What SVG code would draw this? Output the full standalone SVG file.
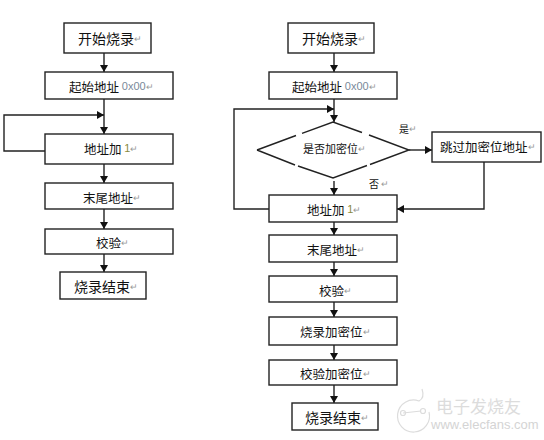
<svg xmlns="http://www.w3.org/2000/svg" width="544" height="440" viewBox="0 0 544 440">
<style>
.b{fill:#fff;stroke:#222;stroke-width:1.4}
.c{fill:none;stroke:#222;stroke-width:1.4}
text{font-family:"Noto Sans CJK SC","Liberation Sans",sans-serif;fill:#111;font-size:12.5px;dominant-baseline:central}
.l{font-size:14px}.s{font-size:11px}.t{font-size:10px}
.r{fill:#999;font-size:9px}
.h{fill:#7a8a9a;font-family:"Liberation Sans",sans-serif;font-size:11px}
.o{fill:#8a8a40;font-family:"Liberation Sans",sans-serif;font-size:11px}
.w{fill:none;stroke:#dcdcdc;stroke-width:1.2}
.wt{fill:#dcdcdc;font-size:17px}
.wu{fill:#d4d4d4;font-family:"Liberation Sans",sans-serif;font-size:13px}
</style>
<defs><marker id="a" markerUnits="userSpaceOnUse" markerWidth="8" markerHeight="8" refX="7" refY="4" orient="auto"><path d="M0 0L7 4L0 8z" fill="#111"/></marker></defs>
<rect width="544" height="440" fill="#fff"/>
<g id="connectors">
<path class="c" marker-end="url(#a)" d="M104 53V72"/>
<path class="c" marker-end="url(#a)" d="M104 99V134"/>
<path class="c" marker-end="url(#a)" d="M45 151H4V115H104"/>
<path class="c" marker-end="url(#a)" d="M104 164V183"/>
<path class="c" marker-end="url(#a)" d="M104 209V229"/>
<path class="c" marker-end="url(#a)" d="M104 254V272"/>
<path class="c" marker-end="url(#a)" d="M334 53V72"/>
<path class="c" marker-end="url(#a)" d="M334 99V122"/>
<path class="c" marker-end="url(#a)" d="M269 209H234V109H334"/>
<path class="c" marker-end="url(#a)" d="M409 150H432"/>
<path class="c" marker-end="url(#a)" d="M484 162V209H397"/>
<path class="c" marker-end="url(#a)" d="M334 181V195"/>
<path class="c" marker-end="url(#a)" d="M334 222V235"/>
<path class="c" marker-end="url(#a)" d="M334 262V276"/>
<path class="c" marker-end="url(#a)" d="M334 302V317"/>
<path class="c" marker-end="url(#a)" d="M334 345V360"/>
<path class="c" marker-end="url(#a)" d="M334 385V403"/>
</g>
<g id="L1"><rect class="b" x="64" y="23" width="87" height="30"/><text class="l" x="78" y="38">开始烧录<tspan class="r">↵</tspan></text></g>
<g id="L2"><rect class="b" x="45" y="72" width="128" height="27"/><text x="69" y="86">起始地址 <tspan class="h">0x00</tspan><tspan class="r">↵</tspan></text></g>
<g id="L3"><rect class="b" x="45" y="134" width="128" height="30"/><text x="84" y="148">地址加 <tspan class="o">1</tspan><tspan class="r">↵</tspan></text></g>
<g id="L4"><rect class="b" x="45" y="183" width="128" height="26"/><text x="83" y="197">末尾地址<tspan class="r">↵</tspan></text></g>
<g id="L5"><rect class="b" x="45" y="229" width="128" height="25"/><text x="96" y="242">校验<tspan class="r">↵</tspan></text></g>
<g id="L6"><rect class="b" x="60" y="272" width="86" height="27"/><text class="l" x="74" y="286">烧录结束<tspan class="r">↵</tspan></text></g>
<g id="R1"><rect class="b" x="288" y="23" width="86" height="30"/><text class="l" x="302" y="38">开始烧录<tspan class="r">↵</tspan></text></g>
<g id="R2"><rect class="b" x="269" y="72" width="128" height="27"/><text x="292" y="86">起始地址 <tspan class="h">0x00</tspan><tspan class="r">↵</tspan></text></g>
<g id="R3"><path class="c" d="M257 150L296 135.500M302 133.400L333 122L362 132.500M369 135L409 150L370 164.500M367 165.500L333 178L298 166M295 165L257 150"/><text class="s" x="303" y="148">是否加密位<tspan class="r">↵</tspan></text></g>
<g id="R4"><rect class="b" x="432" y="132" width="109" height="30"/><text x="440" y="146">跳过加密位地址<tspan class="r">↵</tspan></text></g>
<g id="R5"><rect class="b" x="269" y="195" width="128" height="27"/><text x="307" y="209">地址加 <tspan class="o">1</tspan><tspan class="r">↵</tspan></text></g>
<g id="R6"><rect class="b" x="269" y="235" width="128" height="27"/><text x="307" y="249">末尾地址<tspan class="r">↵</tspan></text></g>
<g id="R7"><rect class="b" x="269" y="276" width="128" height="26"/><text x="319" y="290">校验<tspan class="r">↵</tspan></text></g>
<g id="R8"><rect class="b" x="269" y="317" width="128" height="28"/><text x="300" y="331">烧录加密位<tspan class="r">↵</tspan></text></g>
<g id="R9"><rect class="b" x="269" y="360" width="128" height="25"/><text x="300" y="373">校验加密位<tspan class="r">↵</tspan></text></g>
<g id="R10"><rect class="b" x="292" y="403" width="86" height="27"/><text class="l" x="305" y="417">烧录结束<tspan class="r">↵</tspan></text></g>
<g id="labels"><text class="t" x="399" y="128">是<tspan class="r">↵</tspan></text><text class="t" x="369" y="183">否 <tspan class="r">↵</tspan></text></g>
<g id="watermark"><path class="w" d="M422 389Q425 398 419 401A16 16 0 1 0 429 412"/><path class="w" d="M403 413L421 411"/><circle class="w" cx="403" cy="413" r="2.500"/><circle class="w" cx="423" cy="411" r="2.500"/><text class="wt" x="436" y="405">电子发烧友</text><text class="wu" x="431" y="424">www.elecfans.com</text></g>
</svg>
